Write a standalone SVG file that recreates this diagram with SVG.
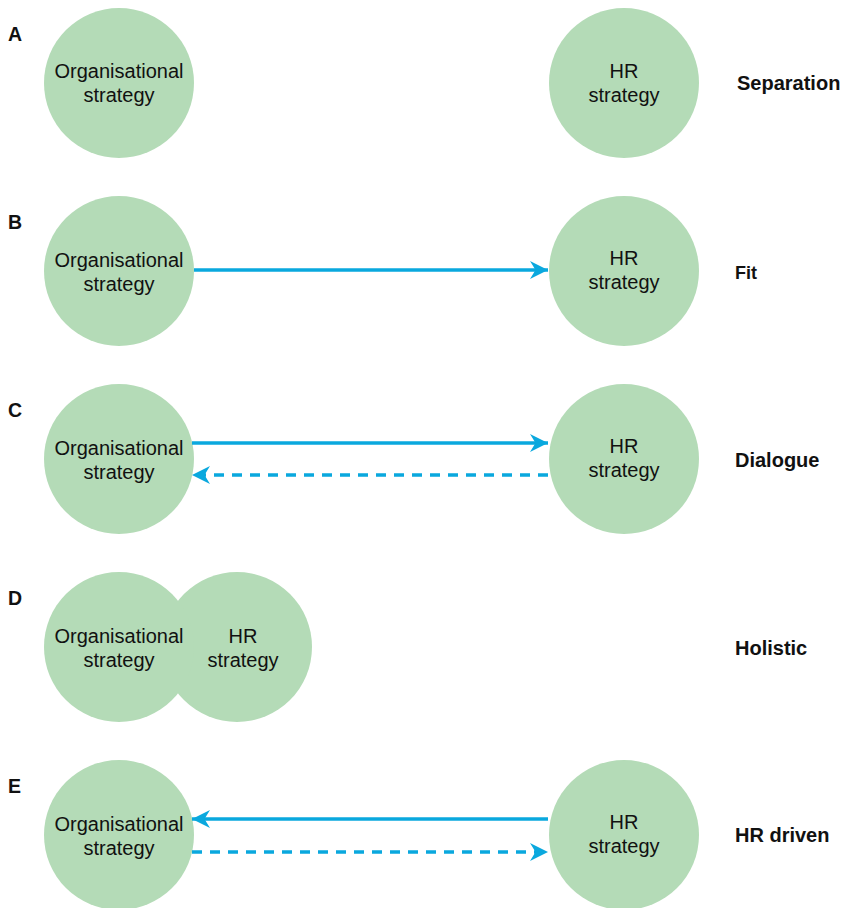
<svg xmlns="http://www.w3.org/2000/svg" width="843" height="908" viewBox="0 0 843 908">
<style>
.node circle{fill:#b4dbb7}
.ntext{font-family:"Liberation Sans",Arial,sans-serif;font-size:20px;fill:#111;text-anchor:middle}
.letter{font-family:"Liberation Sans",Arial,sans-serif;font-size:19.5px;font-weight:bold;fill:#111}
.label{font-family:"Liberation Sans",Arial,sans-serif;font-size:20px;font-weight:bold;fill:#111}
.conn{stroke:#0aa8de;stroke-width:3.5;fill:none}
.dash{stroke-dasharray:10 8}
</style>
<defs>
<marker id="ah" viewBox="0 0 18 18" refX="18" refY="9" markerWidth="18" markerHeight="18" markerUnits="userSpaceOnUse" orient="auto">
<path d="M0,0 L18,9 L0,18 L5.5,9 Z" fill="#0aa8de"/>
</marker>
</defs>
<rect width="843" height="908" fill="#fff"/>
<g id="labels">
<text class="letter" x="8" y="41">A</text>
<text class="letter" x="8" y="229">B</text>
<text class="letter" x="8" y="417">C</text>
<text class="letter" x="8" y="605">D</text>
<text class="letter" x="8" y="793">E</text>
<text class="label" x="737" y="90">Separation</text>
<text class="label" x="735" y="279" style="font-size:18px">Fit</text>
<text class="label" x="735" y="467">Dialogue</text>
<text class="label" x="735" y="655">Holistic</text>
<text class="label" x="735" y="842">HR driven</text>
</g>
<g id="A-org" class="node"><circle cx="119" cy="83" r="75"/><text class="ntext" x="119" y="78">Organisational</text><text class="ntext" x="119" y="102">strategy</text></g>
<g id="A-hr" class="node"><circle cx="624" cy="83" r="75"/><text class="ntext" x="624" y="78">HR</text><text class="ntext" x="624" y="102">strategy</text></g>
<g id="B-org" class="node"><circle cx="119" cy="271" r="75"/><text class="ntext" x="119" y="267">Organisational</text><text class="ntext" x="119" y="291">strategy</text></g>
<g id="B-hr" class="node"><circle cx="624" cy="271" r="75"/><text class="ntext" x="624" y="265">HR</text><text class="ntext" x="624" y="289">strategy</text></g>
<g id="C-org" class="node"><circle cx="119" cy="459" r="75"/><text class="ntext" x="119" y="455">Organisational</text><text class="ntext" x="119" y="479">strategy</text></g>
<g id="C-hr" class="node"><circle cx="624" cy="459" r="75"/><text class="ntext" x="624" y="453">HR</text><text class="ntext" x="624" y="477">strategy</text></g>
<g id="D-hr" class="node"><circle cx="237" cy="647" r="75"/><text class="ntext" x="243" y="643">HR</text><text class="ntext" x="243" y="667">strategy</text></g>
<g id="D-org" class="node"><circle cx="119" cy="647" r="75"/><text class="ntext" x="119" y="643">Organisational</text><text class="ntext" x="119" y="667">strategy</text></g>
<g id="E-org" class="node"><circle cx="119" cy="835" r="75"/><text class="ntext" x="119" y="831">Organisational</text><text class="ntext" x="119" y="855">strategy</text></g>
<g id="E-hr" class="node"><circle cx="624" cy="835" r="75"/><text class="ntext" x="624" y="829">HR</text><text class="ntext" x="624" y="853">strategy</text></g>
<g id="connectors">
<line class="conn" x1="194" y1="270" x2="548" y2="270" marker-end="url(#ah)"/>
<line class="conn" x1="192" y1="443" x2="548" y2="443" marker-end="url(#ah)"/>
<line class="conn dash" x1="548" y1="475" x2="192" y2="475" marker-end="url(#ah)"/>
<line class="conn" x1="548" y1="819" x2="192" y2="819" marker-end="url(#ah)"/>
<line class="conn dash" x1="192" y1="852" x2="548" y2="852" marker-end="url(#ah)"/>
</g>
</svg>
